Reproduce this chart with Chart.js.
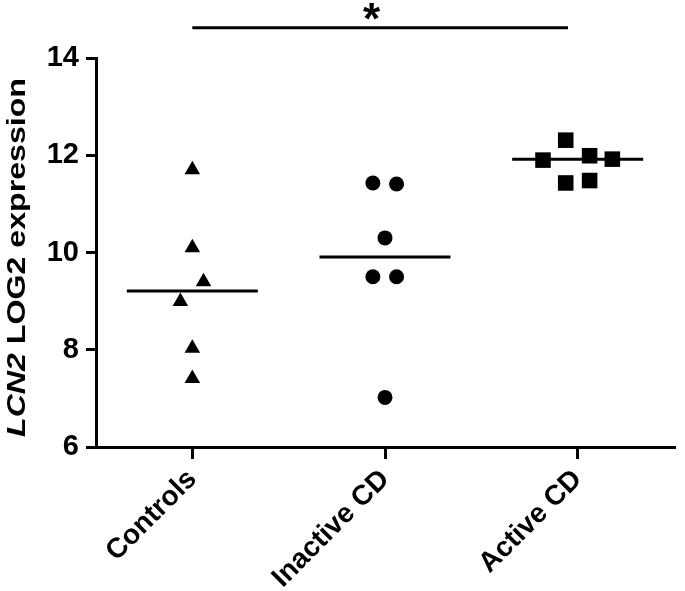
<!DOCTYPE html>
<html><head><meta charset="utf-8">
<script src="https://cdn.jsdelivr.net/npm/chart.js@4"></script>
<style>html,body{margin:0;padding:0;background:#fff}#wrap{width:685px;height:591px;position:relative}</style>
</head><body><div id="wrap"><canvas id="c"></canvas></div>
<script>
// ---- data ----
const categories = ['Controls', 'Inactive CD', 'Active CD'];
const yTicks = [6, 8, 10, 12, 14];
const controlsValues  = [11.70, 10.10, 9.40, 8.99, 8.03, 7.41];
const controlsOffsets = [0, 0, 0.058, -0.062, 0, 0];
const inactiveValues  = [11.43, 11.41, 10.30, 9.50, 9.50, 7.02];
const inactiveOffsets = [-0.063, 0.06, 0, -0.063, 0.06, 0];
const activeValues    = [11.90, 12.31, 11.43, 11.99, 11.48, 11.92];
const activeOffsets   = [-0.18, -0.062, -0.062, 0.062, 0.062, 0.18];
const medians = [9.21, 9.91, 11.92];
const sigBarX = [0, 1.95];
const sigBarY = 14.62;
const sigMarkPos = [0.93, 14.95];
const sigMark = '*';
const yTitleItalic = 'LCN2';
const yTitleRest = ' LOG2 expression';

const FONT = '"Liberation Sans", Arial, Helvetica, sans-serif';
const MEDIAN_HALF = 0.34;

const pts = (vals, offs, c) => vals.map((v, i) => ({x: c + offs[i], y: v}));

const datasets = [
  {type:'scatter', data: pts(controlsValues, controlsOffsets, 0), pointStyle:'triangle', pointRadius:9, backgroundColor:'#000', borderColor:'#000', borderWidth:0},
  {type:'scatter', data: pts(inactiveValues, inactiveOffsets, 1), pointStyle:'circle', pointRadius:7.5, backgroundColor:'#000', borderColor:'#000', borderWidth:0},
  {type:'scatter', data: pts(activeValues, activeOffsets, 2), pointStyle:'rect', pointRadius:11, backgroundColor:'#000', borderColor:'#000', borderWidth:0},
];
medians.forEach((m, i) => datasets.push({
  type:'line', data:[{x:i - MEDIAN_HALF, y:m}, {x:i + MEDIAN_HALF, y:m}],
  borderColor:'#000', borderWidth:3, pointRadius:0, fill:false
}));
datasets.push({
  type:'line', data:[{x:sigBarX[0], y:sigBarY}, {x:sigBarX[1], y:sigBarY}],
  borderColor:'#000', borderWidth:3, pointRadius:0, fill:false, clip:false
});

const annot = {
  id:'annot',
  afterDraw(chart) {
    const {ctx, scales:{x, y}, chartArea} = chart;
    ctx.save();
    ctx.fillStyle = '#000';
    // significance mark
    ctx.font = 'bold 44px ' + FONT;
    ctx.textAlign = 'center';
    ctx.textBaseline = 'alphabetic';
    const m = ctx.measureText(sigMark);
    const px = x.getPixelForValue(sigMarkPos[0]);
    const py = y.getPixelForValue(sigMarkPos[1]);
    ctx.fillText(sigMark, px, py + (m.actualBoundingBoxAscent - m.actualBoundingBoxDescent) / 2);
    // y axis title
    const fItal = 'italic bold 25px ' + FONT;
    const fNorm = 'bold 25px ' + FONT;
    ctx.font = fItal; const w1 = ctx.measureText(yTitleItalic).width;
    ctx.font = fNorm; const w2 = ctx.measureText(yTitleRest).width;
    const k = 359 / (w1 + w2);
    const cy = (chartArea.top + chartArea.bottom) / 2 + 5;
    ctx.translate(25, cy);
    ctx.rotate(-Math.PI / 2);
    ctx.scale(k, 1);
    ctx.textAlign = 'left';
    const start = -(w1 + w2) / 2;
    ctx.font = fItal; ctx.fillText(yTitleItalic, start, 0);
    ctx.font = fNorm; ctx.fillText(yTitleRest, start + w1, 0);
    ctx.restore();
  }
};

new Chart(document.getElementById('c'), {
  data: {datasets},
  options: {
    responsive:true, maintainAspectRatio:false, animation:false,
    layout:{padding:{top:58, right:0, left:0, bottom:0}},
    plugins:{legend:{display:false}, tooltip:{enabled:false}},
    scales:{
      x:{
        type:'linear', min:-0.5, max:2.5,
        afterBuildTicks: s => { s.ticks = categories.map((c, i) => ({value:i})); },
        afterFit: s => { s.height = 144; s.paddingLeft = 0; s.paddingRight = 0; },
        ticks:{callback: v => categories[v], color:'#000', font:{family:FONT, size:28, weight:'bold'}, minRotation:45, maxRotation:45, padding:4, autoSkip:false},
        grid:{drawOnChartArea:false, drawTicks:true, tickLength:12, color:'#000', lineWidth:3},
        border:{display:true, color:'#000', width:3}
      },
      y:{
        type:'linear', min:6, max:14,
        afterBuildTicks: s => { s.ticks = yTicks.map(v => ({value:v})); },
        afterFit: s => { s.width = 96; },
        ticks:{color:'#000', font:{family:FONT, size:29, weight:'bold'}, padding:7},
        grid:{drawOnChartArea:false, drawTicks:true, tickLength:10, color:'#000', lineWidth:3},
        border:{display:true, color:'#000', width:3}
      }
    }
  },
  plugins:[annot]
});
</script>
</body></html>
